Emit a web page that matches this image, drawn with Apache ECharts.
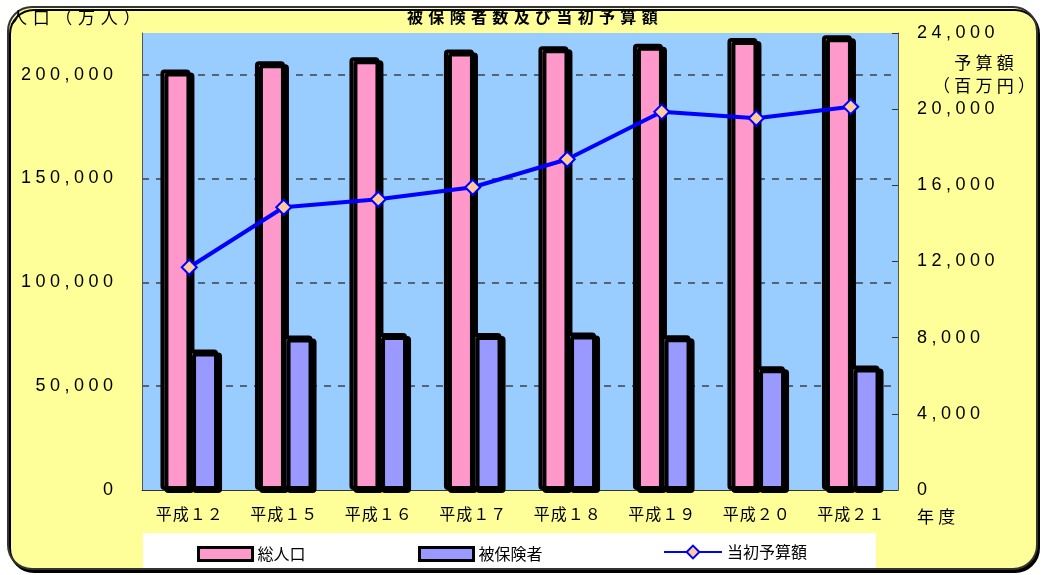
<!DOCTYPE html>
<html>
<head>
<meta charset="utf-8">
<script src="https://cdn.jsdelivr.net/npm/echarts@6/dist/echarts.min.js"></script>
<style>
  html, body { margin: 0; padding: 0; background: #fff; }
  #chart-container { width: 1042px; height: 575px; }
</style>
</head>
<body>
<div id="chart-container"></div>
<script>
// 年度
var categories = ["平成１２", "平成１５", "平成１６", "平成１７", "平成１８", "平成１９", "平成２０", "平成２１"];
// 総人口 / 被保険者（左軸）
var totalPop = [202400, 206400, 208300, 212000, 213600, 214800, 217600, 218900];
var insured = [67600, 74400, 75600, 75600, 75800, 74500, 59600, 59900];
// 当初予算額（右軸）
var budget = [11700, 14850, 15270, 15900, 17370, 19860, 19520, 20130];

var leftTicks = { min: 0, max: 220000, interval: 50000 };
var rightTicks = { min: 0, max: 24000, interval: 4000 };

var FONT = "Liberation Sans, Noto Sans CJK JP, sans-serif";
var JP = "Noto Sans CJK JP, sans-serif";

// 文字間隔を少し広げる
function spaced(s, sp) {
  return String(s).split("").join(sp);
}
function fmtNum(v) {
  return spaced(v.toLocaleString("en-US"), "\u2005");
}

var chart = echarts.init(document.getElementById("chart-container"));

var barStyle = function (color) {
  return {
    color: color,
    borderColor: "#000",
    borderWidth: 4,
    borderRadius: 2,
    shadowColor: "#000",
    shadowOffsetX: 4,
    shadowOffsetY: 3,
    shadowBlur: 0,
  };
};

var option = {
  backgroundColor: "#fff",
  animation: false,
  textStyle: { fontFamily: FONT },
  graphic: [
    {
      type: "rect",
      z: -10,
      shape: { x: 8, y: 7, width: 1029, height: 562, r: 24 },
      style: {
        fill: "#FFFF99",
        stroke: "#333",
        lineWidth: 2,
        shadowColor: "#000",
        shadowOffsetX: 2,
        shadowOffsetY: 3,
        shadowBlur: 0,
      },
    },
    {
      type: "rect",
      z: 1,
      shape: { x: 143, y: 533, width: 733, height: 35 },
      style: { fill: "#fff" },
    },
    {
      type: "text",
      z: 5,
      x: 10,
      y: 18,
      style: {
        text: spaced("人口（万人）", "\u2004"),
        font: "17px " + JP,
        fill: "#000",
        verticalAlign: "middle",
      },
    },
    {
      type: "text",
      z: 5,
      x: 984,
      y: 63,
      style: {
        text: spaced("予算額", "\u2005"),
        font: "17px " + JP,
        fill: "#000",
        align: "center",
        verticalAlign: "middle",
      },
    },
    {
      type: "text",
      z: 5,
      x: 984,
      y: 86,
      style: {
        text: spaced("（百万円）", "\u2005"),
        font: "17px " + JP,
        fill: "#000",
        align: "center",
        verticalAlign: "middle",
      },
    },
    {
      type: "text",
      z: 5,
      x: 917,
      y: 517,
      style: {
        text: spaced("年度", "\u2005"),
        font: "17px " + JP,
        fill: "#000",
        verticalAlign: "middle",
      },
    },
  ],
  title: {
    text: spaced("被保険者数及び当初予算額", "\u2004"),
    left: 407,
    top: 9,
    padding: 0,
    textStyle: { fontFamily: JP, fontSize: 16, fontWeight: "bold", color: "#000" },
  },
  legend: [
    {
      left: 192,
      top: 541,
      icon: "rect",
      itemWidth: 54,
      itemHeight: 13,
      itemGap: 6,
      textStyle: { fontFamily: JP, fontSize: 16, color: "#000" },
      data: [{ name: "総人口", itemStyle: { borderWidth: 3, borderColor: "#000" } }],
    },
    {
      left: 413,
      top: 541,
      icon: "rect",
      itemWidth: 54,
      itemHeight: 13,
      itemGap: 6,
      textStyle: { fontFamily: JP, fontSize: 16, color: "#000" },
      data: [{ name: "被保険者", itemStyle: { borderWidth: 3, borderColor: "#000" } }],
    },
    {
      left: 658,
      top: 539,
      itemWidth: 58,
      itemHeight: 16,
      textStyle: { fontFamily: JP, fontSize: 16, color: "#000" },
      data: ["当初予算額"],
    },
  ],
  grid: {
    left: 142,
    right: 144,
    top: 33,
    bottom: 85,
    show: true,
    backgroundColor: "#99CCFF",
    borderWidth: 0,
  },
  xAxis: {
    type: "category",
    data: categories,
    axisLine: { lineStyle: { color: "#333", width: 1 } },
    axisTick: { inside: true, length: 5, lineStyle: { color: "#333" } },
    axisLabel: {
      margin: 16,
      fontFamily: JP,
      fontSize: 16,
      color: "#000",
      formatter: function (v) {
        return spaced(v, "\u200A");
      },
    },
  },
  yAxis: [
    {
      type: "value",
      min: leftTicks.min,
      max: leftTicks.max,
      interval: leftTicks.interval,
      axisLine: { show: true, lineStyle: { color: "#555", width: 1 } },
      axisTick: { show: false },
      axisLabel: {
        margin: 29,
        fontFamily: FONT,
        fontSize: 18,
        color: "#000",
        showMaxLabel: false,
        formatter: fmtNum,
      },
      splitLine: {
        show: true,
        showMinLine: false,
        showMaxLine: false,
        lineStyle: { color: "#3c424c", width: 1.5, type: [7, 7] },
      },
    },
    {
      type: "value",
      min: rightTicks.min,
      max: rightTicks.max,
      interval: rightTicks.interval,
      position: "right",
      axisLine: { show: true, lineStyle: { color: "#555", width: 1 } },
      axisTick: { show: true, inside: true, length: 6, lineStyle: { color: "#333" } },
      axisLabel: {
        margin: 19,
        fontFamily: FONT,
        fontSize: 18,
        color: "#000",
        formatter: fmtNum,
      },
      splitLine: { show: false },
    },
  ],
  series: [
    {
      name: "総人口",
      type: "bar",
      data: totalPop,
      barWidth: 30,
      barGap: "-8%",
      itemStyle: barStyle("#FF99CC"),
      emphasis: { disabled: true },
    },
    {
      name: "被保険者",
      type: "bar",
      data: insured,
      barWidth: 30,
      barGap: "-8%",
      itemStyle: barStyle("#9999FF"),
      emphasis: { disabled: true },
    },
    {
      name: "当初予算額",
      type: "line",
      yAxisIndex: 1,
      data: budget,
      z: 10,
      symbol: "diamond",
      symbolSize: 15,
      lineStyle: { color: "#0000FF", width: 4 },
      itemStyle: { color: "#FFCC99", borderColor: "#0000FF", borderWidth: 2 },
      emphasis: { disabled: true },
    },
  ],
};

chart.setOption(option);
</script>
</body>
</html>
